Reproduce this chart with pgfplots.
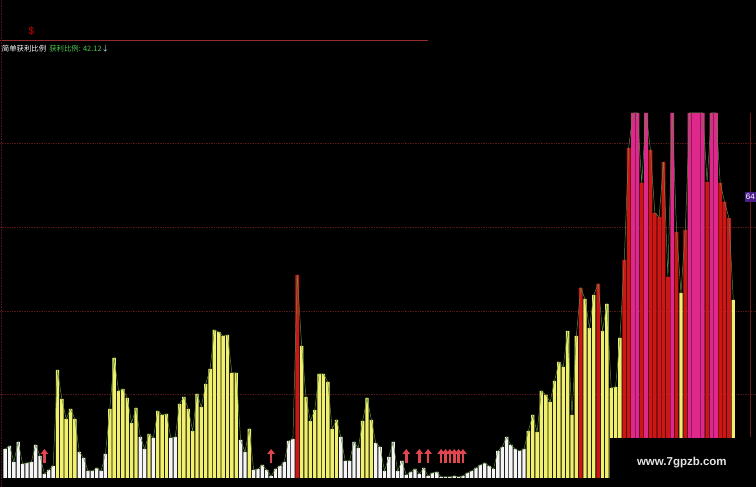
\documentclass[border=0pt]{standalone}
\usepackage{fontspec}
\usepackage{pgfplots}
\usepackage{pgfplotstable}
\pgfplotsset{compat=1.18}
\usetikzlibrary{arrows.meta}
\setmainfont{Liberation Sans}
\newfontfamily\cjk{Noto Sans CJK SC}

\definecolor{barW}{RGB}{245,245,245}
\definecolor{barY}{RGB}{240,240,110}
\definecolor{barR}{RGB}{205,22,22}
\definecolor{barM}{RGB}{222,40,140}
\definecolor{lineG}{RGB}{95,140,60}
\definecolor{gridR}{RGB}{85,24,24}
\definecolor{topR}{RGB}{150,45,45}
\definecolor{vertR}{RGB}{110,25,25}
\definecolor{arrowR}{RGB}{225,70,80}
\definecolor{txtG}{RGB}{80,200,80}
\definecolor{boxP}{RGB}{75,30,140}
\definecolor{wmk}{RGB}{228,228,228}

% n = bar index, h = height (pixels above baseline), c = colour (1 white, 2 yellow, 3 red, 4 magenta)
\pgfplotstableread{
n h c
1 29 1
2 32 1
3 16 1
4 36 1
5 14 1
6 15 1
7 16 1
8 33 1
9 22 1
10 4 1
11 8 1
12 12 1
13 108 2
14 79 2
15 59 2
16 69 2
17 59 2
18 26 1
19 20 1
20 7 1
21 7 1
22 10 1
23 7 1
24 24 1
25 69 2
26 120 2
27 87 2
28 89 2
29 80 2
30 55 2
31 70 2
32 41 1
33 29 1
34 44 2
35 40 1
36 67 2
37 63 2
38 64 2
39 40 1
40 41 1
41 74 2
42 81 2
43 69 2
44 47 2
45 84 2
46 71 2
47 94 2
48 109 2
49 148 2
50 146 2
51 142 2
52 143 2
53 105 2
54 105 2
55 38 1
56 26 1
57 49 2
58 8 1
59 9 1
60 13 1
61 8 1
62 2 1
63 9 1
64 12 1
65 16 1
66 37 1
67 39 1
68 203 3
69 132 2
70 81 2
71 57 2
72 68 2
73 104 2
74 104 2
75 96 2
76 49 2
77 58 2
78 41 1
79 17 1
80 17 1
81 36 1
82 30 1
83 57 2
84 80 2
85 58 2
86 35 1
87 31 1
88 7 1
89 21 1
90 36 1
91 7 1
92 17 1
93 3 1
94 6 1
95 9 1
96 4 1
97 10 1
98 2 1
99 5 1
100 6 1
101 1 1
102 1 1
103 1 1
104 2 1
105 1 1
106 2 1
107 5 1
108 7 1
109 10 1
110 13 1
111 15 1
112 12 1
113 9 1
114 27 1
115 31 1
116 41 1
117 33 1
118 29 1
119 27 1
120 29 1
121 47 2
122 63 2
123 46 2
124 87 2
125 83 2
126 76 2
127 97 2
128 116 2
129 111 2
130 147 2
131 63 2
132 142 2
133 190 3
134 179 2
135 150 2
136 183 2
137 194 3
138 147 2
139 174 2
140 90 2
141 91 2
142 140 2
143 218 3
144 330 3
145 365 4
146 365 4
147 295 3
148 365 4
149 328 3
150 265 3
151 261 3
152 316 3
153 201 3
154 365 4
155 246 3
156 185 2
157 248 3
158 365 4
159 365 4
160 365 4
161 365 4
162 296 3
163 365 4
164 365 4
165 295 3
166 276 3
167 260 3
168 178 2
}\data

\begin{document}
\begin{tikzpicture}
\useasboundingbox (0,0) rectangle (756pt,487pt);
\fill[black] (0,0) rectangle (756pt,487pt);
\begin{axis}[
  scale only axis, width=756pt, height=487pt,
  at={(0pt,0pt)}, anchor=south west,
  xmin=-0.1835, xmax=173.21, ymin=-9, ymax=478,
  hide axis, clip=true,
]
% grid lines
\addplot[gridR, densely dotted, line width=0.7pt, forget plot] coordinates {(-0.2,83.5) (173.3,83.5)};
\addplot[gridR, densely dotted, line width=0.7pt, forget plot] coordinates {(-0.2,167) (173.3,167)};
\addplot[gridR, densely dotted, line width=0.7pt, forget plot] coordinates {(-0.2,251) (173.3,251)};
\addplot[gridR, densely dotted, line width=0.7pt, forget plot] coordinates {(-0.2,335) (173.3,335)};
% top line
\addplot[topR, line width=0.8pt, forget plot] coordinates {(-0.2,438) (98,438)};
% left edge line
\addplot[gridR, densely dotted, line width=0.6pt, forget plot] coordinates {(0.1,-9) (0.1,478)};
% bars
\addplot[ybar, bar shift=0pt, bar width=0.78, fill=barW, draw=none, restrict expr to domain={\thisrow{c}}{1:1}] table[x=n,y=h]{\data};
\addplot[ybar, bar shift=0pt, bar width=0.78, fill=barY, draw=none, restrict expr to domain={\thisrow{c}}{2:2}] table[x=n,y=h]{\data};
\addplot[ybar, bar shift=0pt, bar width=0.86, fill=barR, draw=none, restrict expr to domain={\thisrow{c}}{3:3}] table[x=n,y=h]{\data};
\addplot[ybar, bar shift=0pt, bar width=0.90, fill=barM, draw=none, restrict expr to domain={\thisrow{c}}{4:4}] table[x=n,y=h]{\data};
% line through the tops
\addplot[lineG, line width=0.5pt, mark=none] table[x=n,y=h]{\data};
% arrows
\addplot[arrowR, line width=2.6pt, -{Triangle[width=7.5pt,length=5pt]}, quiver={u=0, v=14}] coordinates {
(10,15) (62,15) (93,15) (96,15) (98,15) (101,15) (102,15) (103,15) (104,15) (105,15) (106,15)};
% right marker line and label
\addplot[vertR, line width=0.7pt, forget plot] coordinates {(171.83,41) (171.83,365)};
\node[anchor=east, fill=boxP, text=white, inner xsep=1pt, inner ysep=2pt, font=\fontsize{8}{9}\selectfont] at (axis cs:173.2,281) {64};
% watermark box
\fill[black] (axis cs:139.7,-9) rectangle (axis cs:174,40);
\node[text=wmk, font=\bfseries\fontsize{11.5}{12}\selectfont] at (axis cs:156.2,15) {www.7gpzb.com};
% title texts
\node[anchor=west, inner sep=0pt, font=\cjk\fontsize{7.4}{9}\selectfont] at (axis cs:0.2,429)
  {\textcolor{white}{简单获利比例}\hspace{3pt}\textcolor{txtG}{获利比例: 42.12}\textcolor{cyan!30}{↓}};
\node[text=red!85!black, font=\fontsize{10}{11}\selectfont, inner sep=0pt] at (axis cs:7.0,447) {\$};
\end{axis}
\end{tikzpicture}
\end{document}
